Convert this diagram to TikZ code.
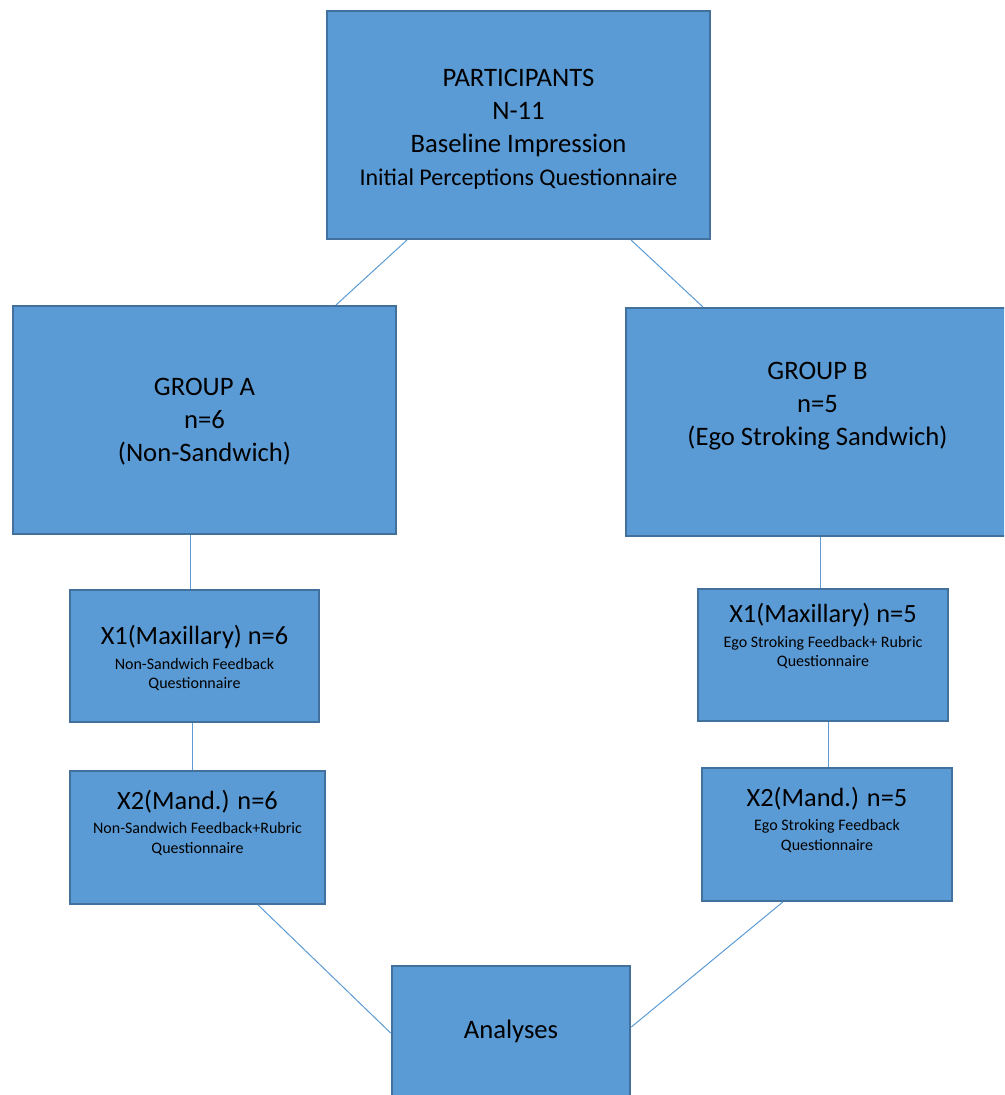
\documentclass[tikz,border=0pt]{standalone}
\usepackage{fontspec}
\setmainfont{Carlito}
\usetikzlibrary{positioning}
\definecolor{boxfill}{HTML}{5B9BD5}
\definecolor{boxline}{HTML}{41719C}

\begin{document}
\begin{tikzpicture}[x=0.75pt,y=-0.75pt,
  box/.style={draw=boxline,fill=boxfill,line width=1.5pt,inner sep=0pt},
  bigbox/.style={box,minimum width=287pt,minimum height=171pt},
  smallbox/.style={box,minimum width=187pt,minimum height=99.5pt},
  big/.style={align=center,font=\fontsize{20}{24.75}\selectfont},
  title/.style={align=center,font=\fontsize{19.75}{20}\selectfont},
  small/.style={align=center,font=\fontsize{12}{14.5}\selectfont},
  link/.style={draw=boxfill,line width=0.75pt}]
  \useasboundingbox (0,0) rectangle (1004,1095);
  \clip (0,0) rectangle (1004,1095);

  % boxes
  \node[bigbox]   (top)  at (518.5,125) {};
  \node[bigbox]   (grpA) at (204.5,420) {};
  \node[bigbox]   (grpB) at (817.5,422) {};
  \node[smallbox] (x1a)  at (194.5,656) {};
  \node[smallbox,minimum width=191.5pt] (x2a) at (197.5,837.5) {};
  \node[smallbox] (x1b)  at (823,655) {};
  \node[smallbox] (x2b)  at (827,834.5) {};
  \node[smallbox,minimum width=179pt] (anl) at (511,1032.5) {};

  % texts
  \node[big] (topT) at (518.5,129)
    {PARTICIPANTS\\N-11\\Baseline Impression\\{\fontsize{18}{24.75}\selectfont Initial Perceptions Questionnaire}};
  \node[big] (grpAT) at (204.5,422) {GROUP A\\n=6\\(Non-Sandwich)};
  \node[big] (grpBT) at (817.5,406) {GROUP B\\n=5\\(Ego Stroking Sandwich)};
  \node[title] (x1aH) at (194.5,637) {X1(Maxillary) n=6};
  \node[small] (x1aT) [below=0pt of x1aH] {Non-Sandwich Feedback\\Questionnaire};
  \node[title] (x2aH) at (197.5,802) {X2(Mand.) n=6};
  \node[small] (x2aT) [below=0pt of x2aH] {Non-Sandwich Feedback+Rubric\\Questionnaire};
  \node[title] (x1bH) at (823,615) {X1(Maxillary) n=5};
  \node[small] (x1bT) [below=0pt of x1bH] {Ego Stroking Feedback+ Rubric\\Questionnaire};
  \node[title] (x2bH) at (827,799) {X2(Mand.) n=5};
  \node[small] (x2bT) [below=0pt of x2bH] {Ego Stroking Feedback\\Questionnaire};
  \node[big] (anlT) at (511,1031) {Analyses};

  % connectors
  \path[link] (top.south -| 407,0) -- (grpA.north -| 336,0);
  \path[link] (top.south -| 631,0) -- (grpB.north -| 703,0);
  \path[link] (grpA.south -| 190,0) -- (x1a.north -| 190,0);
  \path[link] (x1a.south -| 192,0) -- (x2a.north -| 192,0);
  \path[link] (x2a.south -| 258,0) -- (anl.west |- 0,1033);
  \path[link] (grpB.south -| 820,0) -- (x1b.north -| 820,0);
  \path[link] (x1b.south -| 828,0) -- (x2b.north -| 828,0);
  \path[link] (x2b.south -| 783,0) -- (anl.east |- 0,1027);
\end{tikzpicture}
\end{document}
